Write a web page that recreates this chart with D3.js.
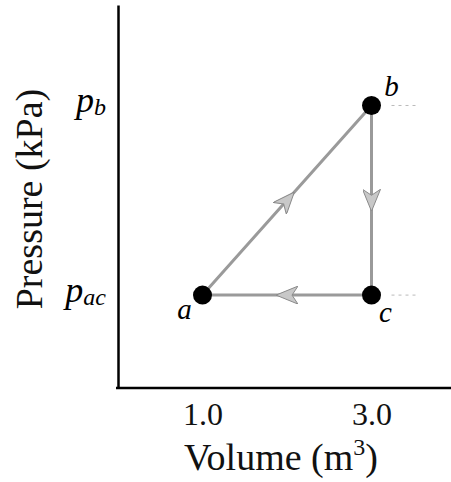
<!DOCTYPE html>
<html>
<head>
<meta charset="utf-8">
<script src="https://cdn.jsdelivr.net/npm/d3@7"></script>
<style>
body { margin: 0; background: #fff; }
text { font-family: "Liberation Serif", "DejaVu Serif", serif; }
</style>
</head>
<body>
<script>
var width = 451;
var height = 482;

// cycle states a -> b -> c -> a
var states = ['a', 'b', 'c'];
var volumes = [1.0, 3.0, 3.0];
var pressures = [1, 2, 1];   // p_ac, p_b, p_ac (no numbers on the figure)
var xTicks = [1.0, 3.0];
var yTickValues = [2, 1];
var yTickNames = [['p', 'b'], ['p', 'ac']];

var svg = d3.select('body')
    .append('svg')
    .attr('width', width)
    .attr('height', height);

var xScale = d3.scaleLinear()
    .domain([0, 4])
    .range([118, 456]);

var yScale = d3.scaleLinear()
    .domain([0.51, 2.53])
    .range([388, 5]);

var defs = svg.append('defs');
defs.append('marker')
    .attr('id', 'arrow')
    .attr('viewBox', '0 0 22 18')
    .attr('refX', 11)
    .attr('refY', 9)
    .attr('markerWidth', 22)
    .attr('markerHeight', 18)
    .attr('markerUnits', 'userSpaceOnUse')
    .attr('orient', 'auto')
    .append('path')
    .attr('d', 'M0,0 L22,9 L0,18 L6,9 Z')
    .attr('fill', '#c8c8c8')
    .attr('stroke', '#8a8a8a')
    .attr('stroke-width', 1);

// faint dotted extensions to the right of b and c
svg.selectAll('line.ext')
    .data([1, 2])
    .enter()
    .append('line')
    .attr('class', 'ext')
    .attr('x1', function (i) { return xScale(volumes[i]) + 20; })
    .attr('x2', function (i) { return xScale(volumes[i]) + 45; })
    .attr('y1', function (i) { return yScale(pressures[i]); })
    .attr('y2', function (i) { return yScale(pressures[i]); })
    .attr('stroke', '#bbb')
    .attr('stroke-width', 1)
    .attr('stroke-dasharray', '3,4');

// process paths, each drawn as two halves so the arrowhead sits mid-way
var segs = states.map(function (s, i) {
    var j = (i + 1) % states.length;
    return { x0: volumes[i], y0: pressures[i], x1: volumes[j], y1: pressures[j] };
});

svg.selectAll('path.seg')
    .data(segs)
    .enter()
    .append('path')
    .attr('class', 'seg')
    .attr('d', function (d) {
        var xm = (d.x0 + d.x1) / 2, ym = (d.y0 + d.y1) / 2;
        return 'M' + xScale(d.x0) + ',' + yScale(d.y0) +
            'L' + xScale(xm) + ',' + yScale(ym) +
            'L' + xScale(d.x1) + ',' + yScale(d.y1);
    })
    .attr('fill', 'none')
    .attr('stroke', '#9a9a9a')
    .attr('stroke-width', 3)
    .attr('marker-mid', 'url(#arrow)');

svg.selectAll('circle')
    .data(states)
    .enter()
    .append('circle')
    .attr('cx', function (d, i) { return xScale(volumes[i]); })
    .attr('cy', function (d, i) { return yScale(pressures[i]); })
    .attr('r', 9.5)
    .attr('fill', '#000');

var labelOffset = { a: [-18, 24], b: [20, -9], c: [14, 27] };
svg.selectAll('text.state')
    .data(states)
    .enter()
    .append('text')
    .attr('class', 'state')
    .attr('x', function (d, i) { return xScale(volumes[i]) + labelOffset[d][0]; })
    .attr('y', function (d, i) { return yScale(pressures[i]) + labelOffset[d][1]; })
    .attr('text-anchor', 'middle')
    .attr('font-style', 'italic')
    .attr('font-size', 29)
    .text(function (d) { return d; });

// axes
var xAxis = d3.axisBottom(xScale)
    .tickValues(xTicks)
    .tickFormat(d3.format('.1f'))
    .tickSize(0)
    .tickPadding(14);

var gx = svg.append('g')
    .attr('transform', 'translate(0,' + yScale(0.51) + ')')
    .call(xAxis);
gx.select('.domain')
    .attr('stroke', '#000')
    .attr('stroke-width', 2.5)
    .attr('d', 'M' + 116 + ',0H' + width);
gx.selectAll('text')
    .attr('font-family', '"Liberation Serif", serif')
    .attr('font-size', 32)
    .attr('fill', '#111');

var yAxis = d3.axisLeft(yScale)
    .tickValues(yTickValues)
    .tickFormat('')
    .tickSize(0);

var gy = svg.append('g')
    .attr('transform', 'translate(' + xScale(0) + ',0)')
    .call(yAxis);
gy.select('.domain')
    .attr('stroke', '#000')
    .attr('stroke-width', 2.5);

// p_b / p_ac labels
gy.selectAll('.tick')
    .append('text')
    .attr('x', -12)
    .attr('y', 6)
    .attr('text-anchor', 'end')
    .attr('font-style', 'italic')
    .attr('font-size', 36)
    .attr('fill', '#000')
    .each(function (d, i) {
        var t = d3.select(this);
        t.append('tspan').text(yTickNames[i][0]);
        t.append('tspan')
            .attr('font-size', 24)
            .attr('dy', 3)
            .text(yTickNames[i][1]);
    });

svg.append('text')
    .attr('x', 281)
    .attr('y', 470)
    .attr('text-anchor', 'middle')
    .attr('font-size', 38)
    .attr('fill', '#111')
    .text('Volume (m')
    .append('tspan')
    .attr('font-size', 24)
    .attr('dy', -15)
    .text('3')
    .select(function () { return this.parentNode; })
    .append('tspan')
    .attr('dy', 15)
    .attr('font-size', 38)
    .text(')');

svg.append('text')
    .attr('transform', 'translate(42,199) rotate(-90)')
    .attr('text-anchor', 'middle')
    .attr('font-size', 38)
    .attr('fill', '#111')
    .text('Pressure (kPa)');
</script>
</body>
</html>
